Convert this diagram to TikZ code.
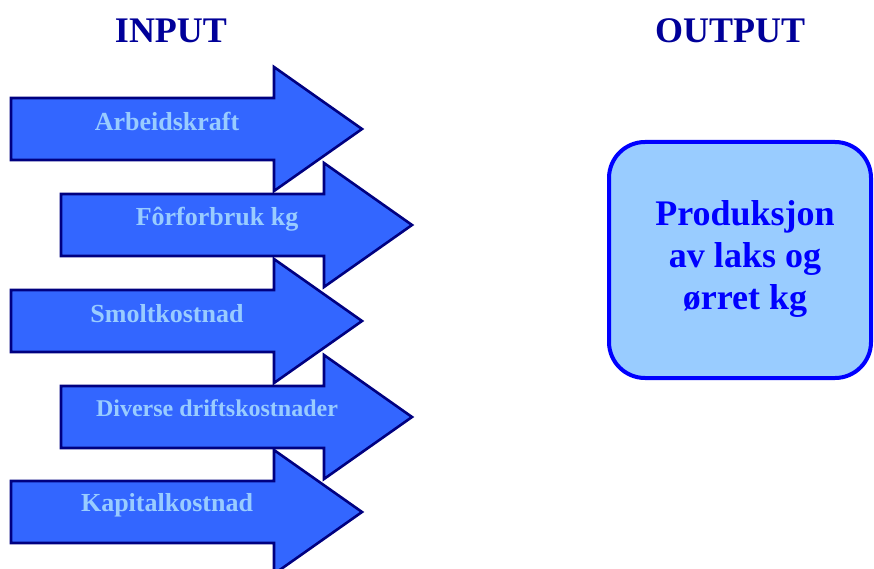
\documentclass[tikz,border=0pt]{standalone}
\usepackage{fontspec}
\setmainfont{Liberation Serif}
\definecolor{arrfill}{HTML}{3366FF}
\definecolor{arrline}{HTML}{000080}
\definecolor{lightbl}{HTML}{99CCFF}
\definecolor{boxline}{HTML}{0000FF}
\definecolor{titlecol}{HTML}{000099}
\tikzset{
  arr/.style={fill=arrfill, draw=arrline, line width=2.6pt, line join=miter},
  albl/.style={text=lightbl, font=\bfseries\fontsize{26}{30}\selectfont, inner sep=0pt},
  ttl/.style={text=titlecol, font=\bfseries\fontsize{36}{40}\selectfont, inner sep=0pt},
  outbox/.style={draw=boxline, fill=lightbl, line width=4pt, rounded corners=36pt,
    minimum width=262pt, minimum height=236pt, text=boxline, align=center,
    font=\bfseries\fontsize{36}{42}\selectfont, inner sep=0pt}
}
\newcommand\inarrow[2]{%
  \draw[arr] (#1,#2-31) -- ++(263,0) -- ++(0,-31) -- ++(88,62) -- ++(-88,62)
    -- ++(0,-31) -- ++(-263,0) -- cycle;}
\begin{document}
\begin{tikzpicture}[x=1pt,y=-1pt]
\useasboundingbox[fill=white] (0,0) rectangle (874,569);
\node[ttl] (input) at (171,31) {INPUT};
\node[ttl] (output) at (730,31) {OUTPUT};
\inarrow{11}{129}
\node[albl] (a1) at (167,121.5) {Arbeidskraft};
\inarrow{61}{225}
\node[albl] (a2) at (217,219.5) {Fôrforbruk kg};
\inarrow{11}{321}
\node[albl] (a3) at (167,314) {Smoltkostnad};
\inarrow{61}{417}
\node[albl, font=\bfseries\fontsize{24}{28}\selectfont] (a4) at (217,408.5) {Diverse driftskostnader};
\inarrow{11}{512}
\node[albl] (a5) at (167,505) {Kapitalkostnad};
\node[outbox] (prod) at (740,260) {};
\node[text=boxline, align=center, font=\bfseries\fontsize{36}{42}\selectfont, inner sep=0pt] (prodtxt) at (745,258.5) {Produksjon\\av laks og\\ørret kg};
\end{tikzpicture}
\end{document}
